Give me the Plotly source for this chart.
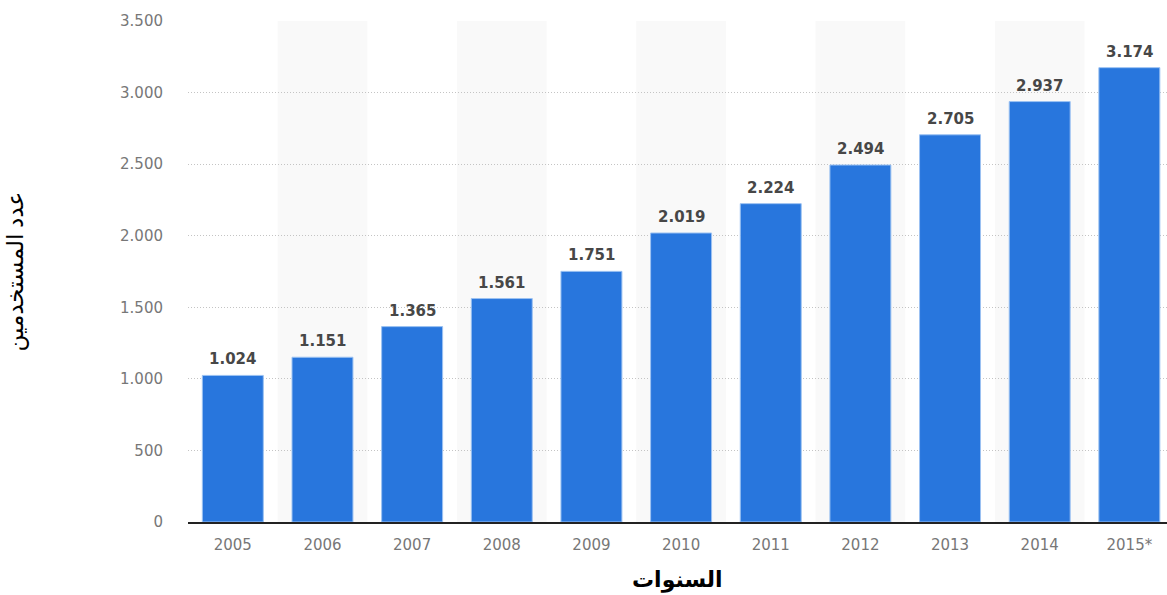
import plotly.graph_objects as go

# Users per year (2015 is an estimate)
years = ["2005", "2006", "2007", "2008", "2009", "2010", "2011", "2012", "2013", "2014", "2015*"]
users = [1024, 1151, 1365, 1561, 1751, 2019, 2224, 2494, 2705, 2937, 3174]
y_ticks = [0, 500, 1000, 1500, 2000, 2500, 3000, 3500]

x_title = "السنوات"
y_title = "عدد المستخدمين"

BAR_COLOR = "#2876dd"
TICK_FONT = dict(family="DejaVu Sans", size=15, color="#777777")


def fmt(v):
    return f"{v:,}".replace(",", ".")


fig = go.Figure()

fig.add_trace(go.Bar(
    x=list(range(len(years))),
    y=users,
    marker=dict(color=BAR_COLOR, line=dict(color="#9cc2f2", width=1)),
    hoverinfo="skip",
))

# alternating column shading
shapes = []
for i in range(len(years)):
    if i % 2 == 1:
        shapes.append(dict(
            type="rect", xref="x", yref="paper",
            x0=i - 0.5, x1=i + 0.5, y0=0, y1=1,
            fillcolor="#f9f9f9", line=dict(width=0), layer="below",
        ))

# value labels above bars
annotations = []
for i, v in enumerate(users):
    annotations.append(dict(
        x=i, y=v, xref="x", yref="y", text=fmt(v), showarrow=False,
        yanchor="bottom", yshift=5,
        font=dict(family="DejaVu Sans", size=15, color="#474747", weight="bold"),
    ))

# axis titles
annotations.append(dict(
    x=0.5, y=-0.116, xref="paper", yref="paper", text=x_title, showarrow=False,
    yanchor="middle", xanchor="center",
    font=dict(family="Liberation Sans, DejaVu Sans", size=22, color="#000000", weight="bold"),
))
annotations.append(dict(
    x=-0.1767, y=0.5, xref="paper", yref="paper", text=y_title, showarrow=False,
    textangle=-90, xanchor="center", yanchor="middle",
    font=dict(family="Liberation Serif, DejaVu Serif, DejaVu Sans", size=23, color="#000000"),
))

fig.update_layout(
    width=1167, height=595,
    margin=dict(l=188, r=0, t=21, b=73),
    paper_bgcolor="#ffffff", plot_bgcolor="#ffffff",
    bargap=0.32,
    showlegend=False,
    separators=",.",
    shapes=shapes,
    annotations=annotations,
    xaxis=dict(
        tickmode="array", tickvals=list(range(len(years))), ticktext=years,
        range=[-0.5, 10.42], showgrid=False, zeroline=False,
        showline=True, linecolor="#222222", linewidth=2,
        ticks="", tickfont=TICK_FONT, ticklabelstandoff=8,
        fixedrange=True,
    ),
    yaxis=dict(
        range=[0, 3500], tickmode="array", tickvals=y_ticks,
        ticktext=[fmt(v) for v in y_ticks],
        showgrid=True, gridcolor="#c4c4c4", griddash="1px,2px", gridwidth=1,
        zeroline=False, showline=False, ticks="",
        tickfont=TICK_FONT, ticklabelstandoff=24,
        fixedrange=True,
    ),
)

fig.write_html("out.html")
